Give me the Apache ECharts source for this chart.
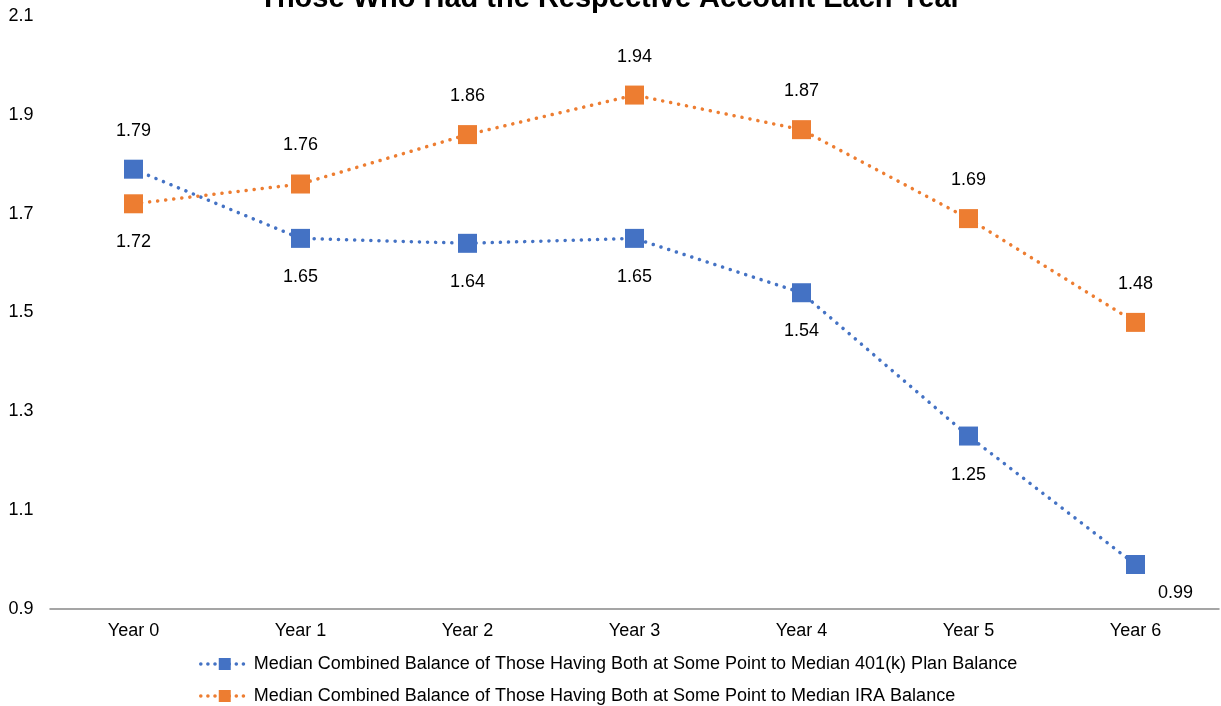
<!DOCTYPE html>
<html>
<head>
<meta charset="utf-8">
<script src="https://cdn.jsdelivr.net/npm/echarts@6/dist/echarts.min.js"></script>
<style>
  html, body { margin: 0; padding: 0; background: #fff; }
  #chart { width: 1221px; height: 706px; }
</style>
</head>
<body>
<div id="chart"></div>
<script>
var categories = ['Year 0', 'Year 1', 'Year 2', 'Year 3', 'Year 4', 'Year 5', 'Year 6'];
var plan401k = [1.79, 1.65, 1.64, 1.65, 1.54, 1.25, 0.99];
var iraBalance = [1.72, 1.76, 1.86, 1.94, 1.87, 1.69, 1.48];
var yTicks = [0.9, 1.1, 1.3, 1.5, 1.7, 1.9, 2.1];

var seriesNames = [
  'Median Combined Balance of Those Having Both at Some Point to Median 401(k) Plan Balance',
  'Median Combined Balance of Those Having Both at Some Point to Median IRA Balance'
];

var dom = document.getElementById('chart');
var myChart = echarts.init(dom);
var font = 'Liberation Sans, Arial, sans-serif';

// label placement per point: blue mostly below, orange mostly above
function blueLabels(v, i) {
  var item = { value: v, label: { position: i === 0 ? 'top' : 'bottom' } };
  if (i === 6) item.label = { position: 'bottom', offset: [40, -10] };
  return item;
}
function orangeLabels(v, i) {
  return { value: v, label: { position: i === 0 ? 'bottom' : 'top' } };
}

var dots = { type: [0.1, 8], cap: 'round', width: 3.5 };

var option = {
  backgroundColor: '#fff',
  textStyle: { fontFamily: font },
  title: {
    text: 'Those Who Had the Respective Account Each Year',
    left: 'center',
    top: -21,
    textStyle: { fontFamily: font, fontSize: 29, fontWeight: 'bold', color: '#000' }
  },
  grid: { left: 50, right: 2, top: 16, bottom: 97 },
  legend: {
    orient: 'vertical',
    left: 194,
    top: 650,
    height: 80,
    itemWidth: 48,
    itemHeight: 15,
    itemGap: 14,
    lineStyle: { width: 3.5, type: [0.1, 7], cap: 'round' },
    textStyle: { fontFamily: font, fontSize: 18, color: '#000' },
    data: seriesNames
  },
  xAxis: {
    type: 'category',
    data: categories,
    boundaryGap: true,
    axisLine: { lineStyle: { color: '#888', width: 1.5 } },
    axisTick: { show: false },
    axisLabel: { color: '#000', fontSize: 18, margin: 13, fontFamily: font }
  },
  yAxis: {
    type: 'value',
    min: 0.9,
    max: 2.1,
    interval: 0.2,
    axisLine: { show: false },
    axisTick: { show: false },
    splitLine: { show: false },
    axisLabel: {
      color: '#000', fontSize: 18, margin: 29, align: 'center', fontFamily: font,
      formatter: function (v) { return (Math.round(v * 10) / 10).toFixed(1); }
    }
  },
  series: [
    {
      name: seriesNames[0],
      type: 'line',
      data: plan401k.map(blueLabels),
      symbol: 'rect',
      symbolSize: 19,
      color: '#4472C4',
      lineStyle: Object.assign({ color: '#4472C4' }, dots),
      itemStyle: { color: '#4472C4' },
      label: { show: true, fontSize: 18, color: '#000', distance: 20, fontFamily: font },
      animation: false
    },
    {
      name: seriesNames[1],
      type: 'line',
      data: iraBalance.map(orangeLabels),
      symbol: 'rect',
      symbolSize: 19,
      color: '#ED7D31',
      lineStyle: Object.assign({ color: '#ED7D31' }, dots),
      itemStyle: { color: '#ED7D31' },
      label: { show: true, fontSize: 18, color: '#000', distance: 20, fontFamily: font },
      animation: false
    }
  ]
};

if (option && typeof option === 'object') {
  myChart.setOption(option);
}
</script>
</body>
</html>
